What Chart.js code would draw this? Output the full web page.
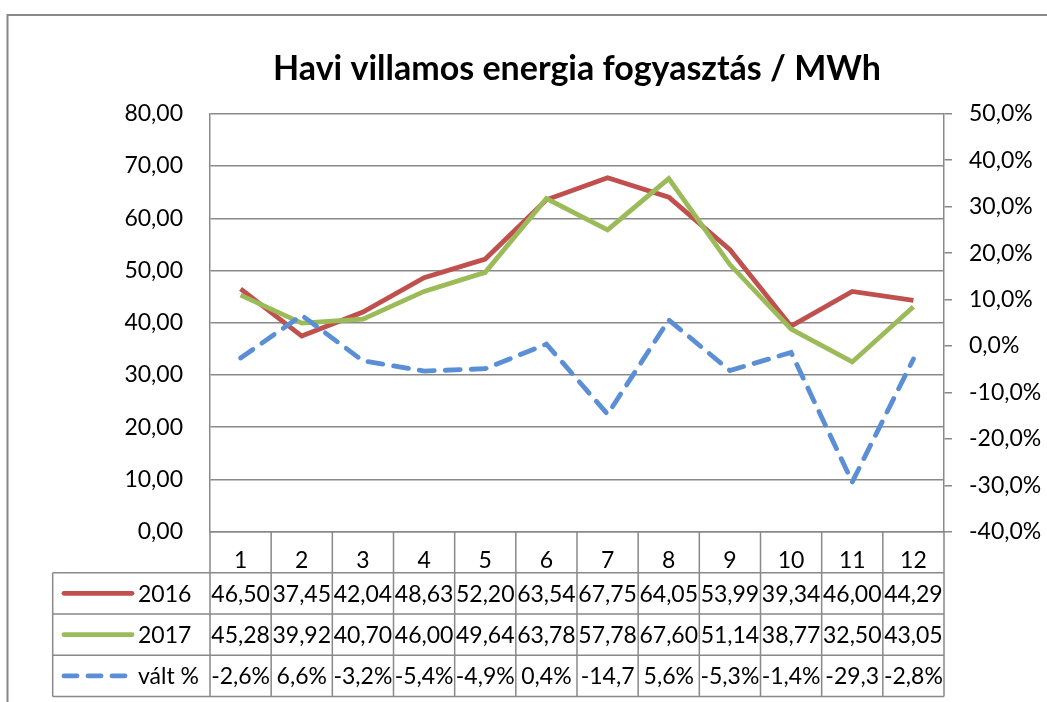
<!DOCTYPE html>
<html>
<head>
<meta charset="utf-8">
<script src="https://cdn.jsdelivr.net/npm/chart.js@4"></script>
<style>
  html, body { margin: 0; padding: 0; background: #fff; }
  #wrap { width: 1047px; height: 702px; }
</style>
</head>
<body>
<div id="wrap"><canvas id="chart" width="1047" height="702"></canvas></div>
<script>
'use strict';

const months = ['1', '2', '3', '4', '5', '6', '7', '8', '9', '10', '11', '12'];
const y2016  = [46.50, 37.45, 42.04, 48.63, 52.20, 63.54, 67.75, 64.05, 53.99, 39.34, 46.00, 44.29];
const y2017  = [45.28, 39.92, 40.70, 46.00, 49.64, 63.78, 57.78, 67.60, 51.14, 38.77, 32.50, 43.05];
const valt   = [-2.6, 6.6, -3.2, -5.4, -4.9, 0.4, -14.7, 5.6, -5.3, -1.4, -29.3, -2.8];

const FONT = 'Lato, "Open Sans", sans-serif';
const GRID = '#898989';
const RED = '#C0504D', GREEN = '#9BBB59', BLUE = '#5A8FD6';

const num = v => v.toFixed(2).replace('.', ',');
const pct = v => v.toFixed(1).replace('.', ',') + '%';

// keret + adattábla a diagram alatt (Excel stílus)
const tablePlugin = {
    id: 'dataTable',
    beforeDraw(chart) {
        const ctx = chart.ctx;
        ctx.save();
        ctx.fillStyle = '#fff';
        ctx.fillRect(0, 0, chart.width, chart.height);
        ctx.strokeStyle = '#888';
        ctx.lineWidth = 2;
        ctx.beginPath();
        ctx.moveTo(chart.width, 15);
        ctx.lineTo(7.5, 15);
        ctx.lineTo(7.5, chart.height);
        ctx.stroke();
        ctx.restore();
    },
    afterDraw(chart) {
        const ctx = chart.ctx, a = chart.chartArea;
        const n = months.length, w = (a.right - a.left) / n;
        const top = chart.scales.x.bottom, rowH = 41.3, left = 52.7;
        const rows = [
            { label: '2016',   color: RED,   dash: [],       texts: y2016.map(num) },
            { label: '2017',   color: GREEN, dash: [],       texts: y2017.map(num) },
            { label: 'vált %', color: BLUE,  dash: [13, 11], texts: valt.map(pct) }
        ];
        const bottom = top + rowH * rows.length;

        ctx.save();
        ctx.strokeStyle = GRID;
        ctx.lineWidth = 1.5;
        ctx.beginPath();
        // kategória sor függőleges vonalai
        for (let i = 0; i <= n; i++) {
            const x = a.left + i * w;
            ctx.moveTo(x, a.bottom);
            ctx.lineTo(x, bottom);
        }
        for (let r = 0; r <= rows.length; r++) {
            ctx.moveTo(left, top + r * rowH);
            ctx.lineTo(a.right, top + r * rowH);
        }
        ctx.moveTo(left, top);
        ctx.lineTo(left, bottom);
        ctx.stroke();

        ctx.font = '23px ' + FONT;
        ctx.fillStyle = '#000';
        ctx.textBaseline = 'middle';
        rows.forEach((row, r) => {
            const cy = top + r * rowH + rowH / 2;
            // jelmagyarázat
            ctx.strokeStyle = row.color;
            ctx.lineWidth = 4.8;
            ctx.lineCap = 'round';
            ctx.setLineDash(row.dash);
            ctx.beginPath();
            ctx.moveTo(64, cy);
            ctx.lineTo(132, cy);
            ctx.stroke();
            ctx.setLineDash([]);
            ctx.textAlign = 'left';
            ctx.fillText(row.label, 138, cy + 1);

            row.texts.forEach((t, i) => {
                const x0 = a.left + i * w;
                let s = t;
                // ami nem fér el, azt levágjuk (mint Excelben)
                while (s.length > 1 && ctx.measureText(s).width > w + 1) s = s.slice(0, -1);
                const tw = ctx.measureText(s).width;
                ctx.textAlign = 'left';
                ctx.fillText(s, x0 + (w - tw) / 2, cy + 1);
            });
        });
        ctx.restore();
    }
};

new Chart(document.getElementById('chart').getContext('2d'), {
    type: 'line',
    data: {
        labels: months,
        datasets: [
            { label: '2016', data: y2016, yAxisID: 'y', borderColor: RED, order: 3,
              borderWidth: 4.8, pointRadius: 0, tension: 0 },
            { label: '2017', data: y2017, yAxisID: 'y', borderColor: GREEN, order: 2,
              borderWidth: 4.8, pointRadius: 0, tension: 0 },
            { label: 'vált %', data: valt, yAxisID: 'y1', borderColor: BLUE, order: 1,
              borderWidth: 4.8, pointRadius: 0, tension: 0,
              borderDash: [15, 11], borderCapStyle: 'round' }
        ]
    },
    options: {
        animation: false,
        responsive: false,
        layout: { padding: { top: 15, left: 0, right: 0, bottom: 129.3 } },
        plugins: {
            legend: { display: false },
            tooltip: { enabled: false },
            title: {
                display: true,
                fullSize: false,
                text: 'Havi villamos energia fogyasztás / MWh',
                color: '#000',
                font: { family: FONT, size: 34, weight: 'bold' },
                padding: { top: 34, bottom: 24 }
            }
        },
        scales: {
            x: {
                offset: true,
                grid: { display: false, offset: true },
                border: { display: true, color: GRID, width: 1.5 },
                ticks: { color: '#000', font: { family: FONT, size: 23 }, padding: 7 },
                afterFit: s => { s.height = 41; }
            },
            y: {
                position: 'left',
                min: 0, max: 80,
                ticks: { stepSize: 10, color: '#000', padding: 27,
                         font: { family: FONT, size: 23 },
                         callback: v => num(v) },
                grid: { color: GRID, lineWidth: 1.5, drawTicks: false },
                border: { color: GRID, width: 1.5 },
                afterFit: s => { s.width = 210; }
            },
            y1: {
                position: 'right',
                min: -40, max: 50,
                ticks: { stepSize: 10, color: '#000', padding: 17,
                         font: { family: FONT, size: 23 },
                         callback: v => pct(v) },
                grid: { drawOnChartArea: false, color: GRID, lineWidth: 1.5, tickLength: 8 },
                border: { color: GRID, width: 1.5 },
                afterFit: s => { s.width = 103; }
            }
        }
    },
    plugins: [tablePlugin]
});
</script>
</body>
</html>
